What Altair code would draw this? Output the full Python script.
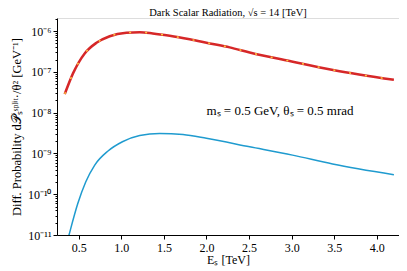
import altair as alt
import pandas as pd

# Red curve (total)
E_red = [0.336, 0.433, 0.57, 0.708, 0.864, 1.06, 1.216, 1.369, 1.568, 1.803, 2.038, 2.272, 2.507, 3.0, 3.5, 4.2]
P_red = [2.86e-8, 9.2e-8, 2.84e-7, 5.17e-7, 7.5e-7, 9.1e-7, 9.4e-7, 8.8e-7, 7.7e-7, 6.3e-7, 5.0e-7, 4.0e-7, 3.0e-7, 1.8e-7, 1.1e-7, 6.4e-8]

# Blue curve
E_blue = [0.336, 0.386, 0.49, 0.582, 0.688, 0.844, 1.013, 1.216, 1.45, 1.724, 1.999, 2.507, 3.01, 3.48, 4.2]
P_blue = [4e-12, 1e-11, 6e-11, 2.0e-10, 5.2e-10, 1.15e-9, 1.94e-9, 2.77e-9, 3.1e-9, 2.9e-9, 2.35e-9, 1.46e-9, 9.1e-10, 5.5e-10, 3.0e-10]

x_ticks = [0.5, 1.0, 1.5, 2.0, 2.5, 3.0, 3.5, 4.0]
y_all = sorted(set([m * 10.0 ** k for k in range(-11, -5) for m in range(1, 10)] + [2e-6]))

title_text = "Dark Scalar Radiation,    √s = 14 [TeV]"
annot_text = "mₛ = 0.5  GeV,    θₛ = 0.5 mrad"
y_title = "Diff. Probability   d𝒫ₛˢᵖˡⁱᵗ·/θ² [GeV⁻¹]"
x_title = "Eₛ [TeV]"

FONT = "Liberation Serif"
XDOM = [0.245, 4.26]
YDOM = [1e-11, 2.1e-6]

red_df = pd.DataFrame({"E": E_red, "P": P_red})
blue_df = pd.DataFrame({"E": E_blue, "P": P_blue})

is_major = "abs(log(datum.value)/LN10 - round(log(datum.value)/LN10)) < 0.01"
label_expr = (
    "abs(log(datum.value)/LN10 - round(log(datum.value)/LN10)) < 0.01 ? "
    "'10' + (round(log(datum.value)/LN10) == -6 ? '⁻⁶' : "
    "round(log(datum.value)/LN10) == -7 ? '⁻⁷' : "
    "round(log(datum.value)/LN10) == -8 ? '⁻⁸' : "
    "round(log(datum.value)/LN10) == -9 ? '⁻⁹' : "
    "round(log(datum.value)/LN10) == -10 ? '⁻¹⁰' : '⁻¹¹') : ''"
)

xscale = alt.Scale(domain=XDOM, nice=False, zero=False)
yscale = alt.Scale(type="log", domain=YDOM, nice=False)

xaxis = alt.Axis(values=x_ticks, format=".1f", title=x_title, grid=False,
                 labelFont=FONT, labelFontSize=12, titleFont=FONT, titleFontSize=12,
                 titleFontWeight="normal", tickColor="black", domainColor="black",
                 labelColor="black", titleColor="black", tickSize=4, labelPadding=3, titlePadding=1)
yaxis = alt.Axis(values=[v for v in y_all if v <= YDOM[1]], labelExpr=label_expr, title=y_title,
                 grid=False, labelFont=FONT, labelFontSize=12, titleFont=FONT, titleFontSize=12.5,
                 titleFontWeight="normal", tickColor="black", domainColor="black",
                 labelColor="black", titleColor="black",
                 tickSize={"condition": {"test": is_major, "value": 4}, "value": 2},
                 labelPadding=2, titlePadding=4)

red_base = alt.Chart(red_df).encode(
    x=alt.X("E:Q", scale=xscale, axis=xaxis),
    y=alt.Y("P:Q", scale=yscale, axis=yaxis),
)
red = red_base.mark_line(color="#d62728", strokeWidth=2.5, clip=True, interpolate="monotone")
orange = red_base.mark_line(color="#ffc83d", strokeWidth=1.5, strokeDash=[2, 14], clip=True, interpolate="monotone")

blue = alt.Chart(blue_df).mark_line(color="#1f9bcf", strokeWidth=1.5, clip=True, interpolate="monotone").encode(
    x=alt.X("E:Q", scale=xscale),
    y=alt.Y("P:Q", scale=yscale),
)

annot = alt.Chart(pd.DataFrame({"E": [2.0], "P": [1.1e-8], "t": [annot_text]})).mark_text(
    align="left", baseline="middle", font=FONT, fontSize=13, color="black"
).encode(x=alt.X("E:Q", scale=xscale), y=alt.Y("P:Q", scale=yscale), text="t:N")

chart = alt.layer(blue, red, orange, annot).properties(
    width=342, height=217,
    title=alt.TitleParams(title_text, font=FONT, fontSize=10.5, fontWeight="normal", color="black", offset=0),
    autosize=alt.AutoSizeParams(type="none"),
    padding={"left": 49, "top": 10, "right": 0, "bottom": 34},
).configure_view(stroke="black", strokeWidth=1).configure(background="white")

chart.save("out.html", embed_options={"renderer": "svg", "actions": False})
